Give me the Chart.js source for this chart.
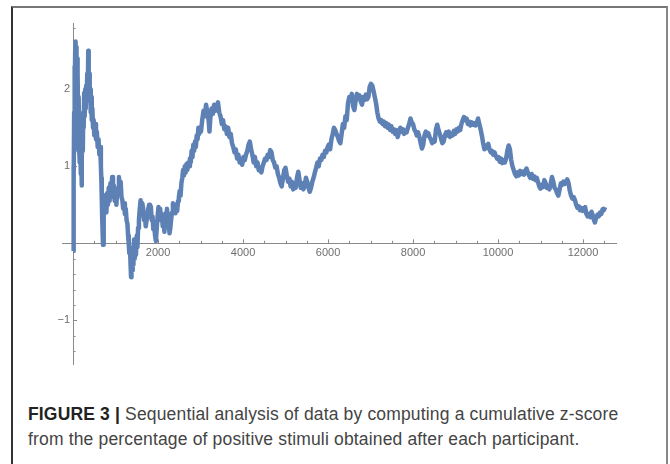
<!DOCTYPE html>
<html>
<head>
<meta charset="utf-8">
<script src="https://cdn.jsdelivr.net/npm/chart.js@4.4.1/dist/chart.umd.min.js"></script>
<style>
	body { margin: 0; background: #fff; width: 670px; height: 464px; overflow: hidden; position: relative; }
	#frame { position: absolute; left: 11px; top: 6px; width: 653px; height: 470px; border-top: 2px solid #777; border-left: 2px solid #333; border-right: 2px solid #888; }
	#chart { position: absolute; left: 0; top: 0; }
	#caption { position: absolute; left: 28px; top: 402px; width: 640px; font-family: 'Liberation Sans', Arial, sans-serif; font-size: 17.5px; letter-spacing: 0.16px; line-height: 24.5px; color: #444; white-space: nowrap; }
	#caption b { color: #222; }
</style>
</head>
<body>
<div id="frame"></div>
<canvas id="chart" width="670" height="380"></canvas>
<div id="caption"><b>FIGURE 3 |</b> Sequential analysis of data by computing a cumulative z-score<br>from the percentage of positive stimuli obtained after each participant.</div>
<script>
const participants = [
	2, 8, 14, 20, 26, 32, 38, 44, 50, 56, 62, 70, 78, 86, 94, 102, 112, 122, 132, 142, 152, 162, 172, 182, 192, 200,
	210, 220, 230, 240, 250, 262, 274, 286, 298, 310, 322, 334, 346, 358, 368, 380, 392, 404, 416, 428, 440, 455, 470, 485,
	500, 520, 540, 560, 580, 600, 620, 640, 655, 665, 675, 685, 695, 705, 715, 728, 740, 755, 770, 785, 800, 820, 840, 860,
	880, 900, 920, 940, 960, 980, 1000, 1020, 1040, 1060, 1080, 1100, 1120, 1140, 1160, 1180, 1200, 1220, 1240, 1260, 1280,
	1295, 1310, 1325, 1340, 1355, 1365, 1375, 1390, 1405, 1420, 1435, 1450, 1465, 1480, 1500, 1515, 1530, 1550, 1570, 1590,
	1610, 1630, 1650, 1670, 1690, 1710, 1730, 1750, 1770, 1790, 1810, 1830, 1850, 1870, 1890, 1910, 1930, 1950, 1970, 1990,
	2010, 2030, 2050, 2070, 2090, 2110, 2130, 2150, 2170, 2190, 2210, 2230, 2250, 2270, 2290, 2310, 2330, 2350, 2370, 2390,
	2410, 2430, 2450, 2470, 2490, 2510, 2530, 2550, 2570, 2590, 2610, 2630, 2650, 2670, 2690, 2710, 2730, 2750, 2770, 2790,
	2810, 2830, 2850, 2870, 2890, 2910, 2930, 2950, 2970, 2990,
	3010, 3040, 3070, 3100, 3130, 3160, 3190, 3210, 3230, 3260, 3290, 3320, 3350, 3380, 3410, 3440, 3470, 3500, 3530, 3560,
	3590, 3620, 3650, 3680, 3710, 3740, 3770, 3800, 3830, 3860, 3890, 3920, 3950, 3980, 4010, 4040, 4070, 4100, 4130, 4160,
	4190, 4220, 4250, 4280, 4310, 4340, 4370, 4400, 4430, 4460, 4490, 4520, 4550, 4580, 4610, 4640, 4670, 4700, 4730, 4760,
	4790, 4820, 4850, 4880, 4910, 4940, 4970, 5000, 5030, 5060, 5090, 5120, 5150, 5180, 5210, 5240, 5270, 5300, 5330, 5360,
	5390, 5420, 5450, 5480, 5510, 5540, 5570, 5600, 5630, 5660, 5690, 5720, 5750, 5780, 5810, 5840, 5870, 5900, 5930, 5960,
	5990, 6020, 6050, 6080, 6110, 6140, 6170, 6200, 6230, 6260,
	6290, 6320, 6350, 6380, 6410, 6440, 6470, 6500, 6530, 6560, 6590, 6620, 6650, 6680, 6710, 6740, 6770, 6800, 6830, 6860,
	6890, 6920, 6950, 6980, 7010, 7040, 7070, 7100, 7130, 7160, 7190, 7220, 7250, 7280, 7310, 7340, 7370, 7400, 7430, 7460,
	7490, 7520, 7550, 7580, 7610, 7640, 7670, 7700, 7730, 7760, 7790, 7820, 7850, 7880, 7910, 7940, 7970, 8000, 8030, 8060,
	8090, 8120, 8150, 8180, 8210, 8240, 8270, 8300, 8330, 8360, 8390, 8420, 8450, 8480, 8510, 8540, 8570, 8600, 8630, 8660,
	8690, 8720, 8750, 8780, 8810, 8840, 8870, 8900, 8930, 8960, 8990, 9020, 9050, 9080, 9110, 9140, 9170, 9200, 9230, 9260,
	9290, 9320, 9350, 9380, 9410, 9440, 9470, 9500, 9530, 9560, 9590,
	9620, 9650, 9680, 9710, 9740, 9770, 9800, 9830, 9860, 9890, 9920, 9950, 9980, 10010, 10040, 10070, 10100, 10130, 10160,
	10190, 10220, 10250, 10280, 10310, 10340, 10370, 10400, 10430, 10460, 10490, 10520, 10550, 10580, 10610, 10640, 10670,
	10700, 10730, 10760, 10790, 10820, 10850, 10880, 10910, 10940, 10970, 11000, 11030, 11060, 11090, 11120, 11150, 11180,
	11210, 11240, 11270, 11300, 11330, 11360, 11390, 11420, 11450, 11480, 11510, 11540, 11570, 11600, 11630, 11660, 11690,
	11720, 11750, 11780, 11810, 11840, 11870, 11900, 11930, 11960, 11990, 12020, 12050, 12080, 12110, 12140, 12170, 12200,
	12230, 12260, 12280, 12310, 12340, 12370, 12400, 12430, 12460, 12490, 12520
]

const zScores = [
	-0.1, 0.2, 1.0, 0.8, 1.7, 1.2, 2.3, 1.6, 2.5, 2.0, 2.62, 2.1, 2.55, 1.9, 2.4, 1.7, 2.2, 1.5, 1.9, 1.25, 1.6, 1.05, 1.4, 0.9, 1.2, 0.75,
	1.1, 1.45, 1.2, 1.7, 1.5, 1.95, 1.65, 2.0, 1.75, 2.05, 1.85, 2.2, 1.95, 2.5, 2.05, 2.2, 1.85, 2.0, 1.7, 1.9, 1.6, 1.75, 1.5, 1.6,
	1.4, 1.55, 1.35, 1.45, 1.25, 1.35, 1.15, 1.25, 1.0, 0.85, 0.6, 0.35, 0.15, -0.02, 0.2, 0.45, 0.62, 0.45, 0.6, 0.4, 0.65, 0.5, 0.72, 0.55,
	0.78, 0.6, 0.86, 0.62, 0.75, 0.55, 0.7, 0.5, 0.68, 0.72, 0.86, 0.7, 0.8, 0.6, 0.56, 0.45, 0.52, 0.38, 0.45, 0.3, 0.25,
	0.1, 0.0, -0.13, -0.05, -0.3, -0.44, -0.2, -0.35, -0.1, -0.28, 0.05, -0.2, 0.0, -0.15, 0.1, -0.05, 0.2, 0.3, 0.45, 0.56,
	0.4, 0.52, 0.45, 0.3, 0.38, 0.22, 0.3, 0.35, 0.45, 0.5, 0.38, 0.48, 0.3, 0.35, 0.18, 0.25, 0.1, 0.03, 0.2, 0.35,
	0.47, 0.4, 0.45, 0.3, 0.38, 0.22, 0.3, 0.15, 0.3, 0.4, 0.45, 0.35, 0.3, 0.13, 0.2, 0.32, 0.4, 0.52, 0.45, 0.5,
	0.39, 0.48, 0.42, 0.55, 0.6, 0.68, 0.62, 0.78, 0.85, 0.95, 0.88, 1.0, 0.92, 1.03, 0.95, 1.05, 1.0, 1.1, 1.05, 1.2,
	1.12, 1.28, 1.2, 1.32, 1.25, 1.4, 1.35, 1.5, 1.42, 1.48,
	1.45, 1.6, 1.72, 1.65, 1.8, 1.7, 1.6, 1.45, 1.62, 1.75, 1.68, 1.8, 1.72, 1.78, 1.83, 1.7, 1.65, 1.55, 1.6, 1.48,
	1.52, 1.42, 1.5, 1.38, 1.42, 1.3, 1.25, 1.18, 1.22, 1.1, 1.15, 1.05, 1.1, 1.02, 1.12, 1.08, 1.15, 1.2, 1.28, 1.32,
	1.22, 1.15, 1.05, 1.12, 1.0, 1.05, 0.95, 0.98, 0.92, 1.0, 1.05, 1.1, 1.08, 1.15, 1.12, 1.21, 1.18, 1.08, 1.05, 0.98,
	1.0, 0.9, 0.85, 0.78, 0.74, 0.85, 0.95, 0.98, 0.88, 0.8, 0.84, 0.74, 0.8, 0.7, 0.78, 0.72, 0.85, 0.93, 0.82, 0.72,
	0.78, 0.7, 0.75, 0.85, 0.8, 0.72, 0.67, 0.72, 0.8, 0.85, 0.92, 0.98, 1.05, 1.0, 1.1, 1.08, 1.15, 1.12, 1.2, 1.18,
	1.25, 1.28, 1.22, 1.35, 1.42, 1.5, 1.47, 1.42, 1.38, 1.33,
	1.3, 1.42, 1.55, 1.5, 1.65, 1.6, 1.82, 1.9, 1.85, 1.94, 1.78, 1.73, 1.85, 1.94, 1.88, 1.92, 1.84, 1.8, 1.9, 1.86,
	1.93, 1.87, 1.9, 2.03, 2.07, 2.05, 1.98, 1.9, 1.82, 1.7, 1.62, 1.58, 1.6, 1.55, 1.58, 1.52, 1.56, 1.5, 1.54, 1.47,
	1.52, 1.45, 1.48, 1.42, 1.47, 1.38, 1.44, 1.5, 1.45, 1.48, 1.42, 1.46, 1.44, 1.5, 1.55, 1.62, 1.57, 1.55, 1.48, 1.45,
	1.4, 1.44, 1.38, 1.3, 1.23, 1.28, 1.4, 1.45, 1.4, 1.43, 1.38, 1.35, 1.3, 1.34, 1.32, 1.48, 1.54, 1.47, 1.42, 1.36,
	1.3, 1.32, 1.4, 1.44, 1.4, 1.45, 1.38, 1.42, 1.4, 1.46, 1.42, 1.48, 1.45, 1.5, 1.47, 1.55, 1.6, 1.64, 1.6, 1.62,
	1.55, 1.58, 1.53, 1.57, 1.54, 1.56, 1.53, 1.56, 1.62, 1.55, 1.48,
	1.4, 1.3, 1.22, 1.27, 1.24, 1.29, 1.22, 1.18, 1.2, 1.15, 1.18, 1.13, 1.1, 1.12, 1.06, 1.1, 1.04, 1.08, 1.05,
	1.1, 1.2, 1.27, 1.22, 1.08, 1.0, 0.95, 0.9, 0.87, 0.92, 0.88, 0.94, 0.9, 0.93, 0.89, 0.94, 0.97,
	0.92, 0.88, 0.85, 0.9, 0.84, 0.87, 0.82, 0.85, 0.8, 0.74, 0.71, 0.76, 0.73, 0.82, 0.78, 0.72, 0.74,
	0.7, 0.78, 0.86, 0.8, 0.72, 0.7, 0.65, 0.62, 0.7, 0.78, 0.76, 0.8, 0.77, 0.8, 0.83, 0.78, 0.68,
	0.62, 0.58, 0.6, 0.56, 0.5, 0.46, 0.48, 0.43, 0.46, 0.42, 0.45, 0.47, 0.38, 0.35, 0.38, 0.34, 0.41,
	0.36, 0.3, 0.27, 0.34, 0.37, 0.35, 0.4, 0.38, 0.44, 0.43, 0.47
]

const xMajorTicks = [2000, 4000, 6000, 8000, 10000, 12000]
const xTickLabels = ['2000', '4000', '6000', '8000', '10000', '12000']
const yMajorTicks = [-1, 1, 2]
const yTickLabels = ['\u22121', '1', '2']

const axesPlugin = {
	id: 'crossAxes',
	beforeDatasetsDraw(chart) {
		const { ctx, chartArea, scales } = chart
		const x = scales.x
		const y = scales.y
		const x0 = x.getPixelForValue(0)
		const y0 = y.getPixelForValue(0)

		ctx.save()
		ctx.strokeStyle = '#8a8a8a'
		ctx.lineWidth = 1
		ctx.beginPath()
		ctx.moveTo(chartArea.left, Math.round(y0) + 0.5)
		ctx.lineTo(chartArea.right, Math.round(y0) + 0.5)
		ctx.moveTo(Math.round(x0) + 0.5, chartArea.top)
		ctx.lineTo(Math.round(x0) + 0.5, chartArea.bottom)

		// minor ticks every 500 on x, every 0.2 on y
		for (let v = 500; v <= 12500; v += 500) {
			const px = Math.round(x.getPixelForValue(v)) + 0.5
			const len = v % 2000 === 0 ? 4 : 2.5
			ctx.moveTo(px, y0)
			ctx.lineTo(px, y0 - len)
		}
		for (let i = -7; i <= 14; i++) {
			if (i === 0) continue
			const py = Math.round(y.getPixelForValue(i / 5)) + 0.5
			const len = i % 5 === 0 ? 4 : 2.5
			ctx.moveTo(x0, py)
			ctx.lineTo(x0 + len, py)
		}
		ctx.stroke()

		ctx.fillStyle = '#6e6e6e'
		ctx.font = '11px "Liberation Sans", Arial, sans-serif'
		ctx.textAlign = 'center'
		ctx.textBaseline = 'middle'
		xMajorTicks.forEach((v, i) => {
			ctx.fillText(xTickLabels[i], x.getPixelForValue(v), y0 + 10)
		})
		ctx.textAlign = 'right'
		yMajorTicks.forEach((v, i) => {
			ctx.fillText(yTickLabels[i], x0 - 3, y.getPixelForValue(v))
		})
		ctx.restore()
	}
}

const ctx = document.getElementById('chart').getContext('2d')

new Chart(ctx, {
	type: 'scatter',
	data: {
		datasets: [
			{
				data: participants.map((p, i) => ({ x: p, y: zScores[i] })),
				showLine: true,
				borderColor: '#5E81B5',
				borderWidth: 4.5,
				borderJoinStyle: 'round',
				pointRadius: 0,
				tension: 0
			}
		]
	},
	options: {
		responsive: false,
		animation: false,
		devicePixelRatio: 1,
		layout: {
			padding: { left: 62, right: 53, top: 23, bottom: 15 }
		},
		plugins: {
			legend: { display: false },
			tooltip: { enabled: false }
		},
		scales: {
			x: { type: 'linear', min: -260, max: 12800, display: false },
			y: { type: 'linear', min: -1.58, max: 2.86, display: false }
		}
	},
	plugins: [axesPlugin]
})
</script>
</body>
</html>
